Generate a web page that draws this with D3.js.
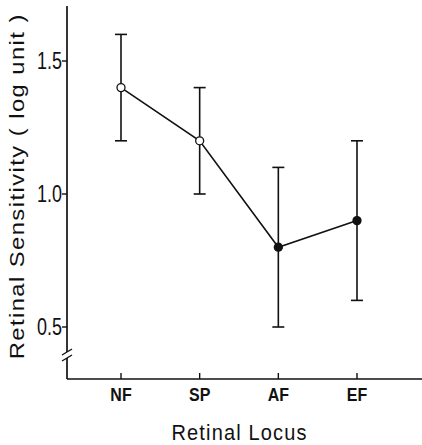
<!DOCTYPE html>
<html><head><meta charset="utf-8">
<script src="https://cdn.jsdelivr.net/npm/d3@7"></script>
<style>body{margin:0;background:#fff}svg{display:block}</style>
</head><body>
<svg id="c" width="422" height="445"></svg>
<script>
const categories = ["NF","SP","AF","EF"];
const means = [1.4, 1.2, 0.8, 0.9];
const lower = [1.2, 1.0, 0.5, 0.6];
const upper = [1.6, 1.4, 1.1, 1.2];
const filled = [false, false, true, true];
const yTicks = [0.5, 1.0, 1.5];

const svg = d3.select("#c");
const axisX = 67, axisBottom = 379, axisTop = 6;
const y = d3.scaleLinear().domain([0.5, 1.5]).range([327, 61]);
const x = d3.scalePoint().domain(categories).range([121, 357]);
const font = "'Liberation Sans', Arial, Helvetica, sans-serif";
const ink = "#111";

// y axis with break
const g = svg.append("g");
g.append("line").attr("x1",axisX).attr("x2",axisX).attr("y1",axisTop).attr("y2",352).attr("stroke",ink).attr("stroke-width",1.7);
g.append("line").attr("x1",axisX).attr("x2",axisX).attr("y1",358).attr("y2",axisBottom).attr("stroke",ink).attr("stroke-width",1.7);
[352,358].forEach(yy=>{
  g.append("line").attr("x1",axisX-5).attr("y1",yy+3).attr("x2",axisX+5).attr("y2",yy-3).attr("stroke",ink).attr("stroke-width",1.4);
});
// x axis
g.append("line").attr("x1",axisX).attr("x2",422).attr("y1",axisBottom).attr("y2",axisBottom).attr("stroke",ink).attr("stroke-width",1.7);

// y ticks
yTicks.forEach(t=>{
  g.append("line").attr("x1",axisX-5).attr("x2",axisX).attr("y1",y(t)).attr("y2",y(t)).attr("stroke",ink).attr("stroke-width",1.4);
  g.append("text").attr("x",axisX-5).attr("y",y(t)).attr("dy","0.36em").attr("text-anchor","end")
   .attr("font-family",font).attr("font-size",23).attr("fill",ink)
   .attr("textLength",25).attr("lengthAdjust","spacingAndGlyphs").text(d3.format(".1f")(t));
});
// x ticks
categories.forEach(c=>{
  g.append("line").attr("x1",x(c)).attr("x2",x(c)).attr("y1",axisBottom).attr("y2",axisBottom-6).attr("stroke",ink).attr("stroke-width",1.4);
  g.append("text").attr("transform",`translate(${x(c)},401) scale(1,1.1)`).attr("text-anchor","middle")
   .attr("font-family",font).attr("font-size",16).attr("font-weight","bold").attr("fill",ink).text(c);
});

// axis titles
svg.append("text").attr("transform","translate(24,187) rotate(-90) scale(1.13,1)").attr("text-anchor","middle")
  .attr("font-family",font).attr("font-size",21).attr("fill",ink)
  .attr("textLength",305).attr("lengthAdjust","spacing").text("Retinal Sensitivity ( log unit )");
svg.append("text").attr("transform","translate(239,440) scale(1,1.1)").attr("text-anchor","middle")
  .attr("font-family",font).attr("font-size",20).attr("fill",ink)
  .attr("textLength",135).attr("lengthAdjust","spacing").text("Retinal  Locus");

// error bars
const pts = categories.map((c,i)=>({c, m:means[i], lo:lower[i], hi:upper[i], f:filled[i]}));
const eb = svg.append("g").attr("stroke",ink).attr("stroke-width",1.6);
pts.forEach(p=>{
  eb.append("line").attr("x1",x(p.c)).attr("x2",x(p.c)).attr("y1",y(p.lo)).attr("y2",y(p.hi));
  eb.append("line").attr("x1",x(p.c)-6).attr("x2",x(p.c)+6).attr("y1",y(p.lo)).attr("y2",y(p.lo));
  eb.append("line").attr("x1",x(p.c)-6).attr("x2",x(p.c)+6).attr("y1",y(p.hi)).attr("y2",y(p.hi));
});
// line
svg.append("path").datum(pts).attr("fill","none").attr("stroke",ink).attr("stroke-width",1.6)
  .attr("d", d3.line().x(p=>x(p.c)).y(p=>y(p.m)));
// markers
svg.selectAll("circle.m").data(pts).join("circle").attr("class","m")
  .attr("cx",p=>x(p.c)).attr("cy",p=>y(p.m)).attr("r",4)
  .attr("fill",p=>p.f?ink:"#fff").attr("stroke",ink).attr("stroke-width",1.3);
</script>
</body></html>
